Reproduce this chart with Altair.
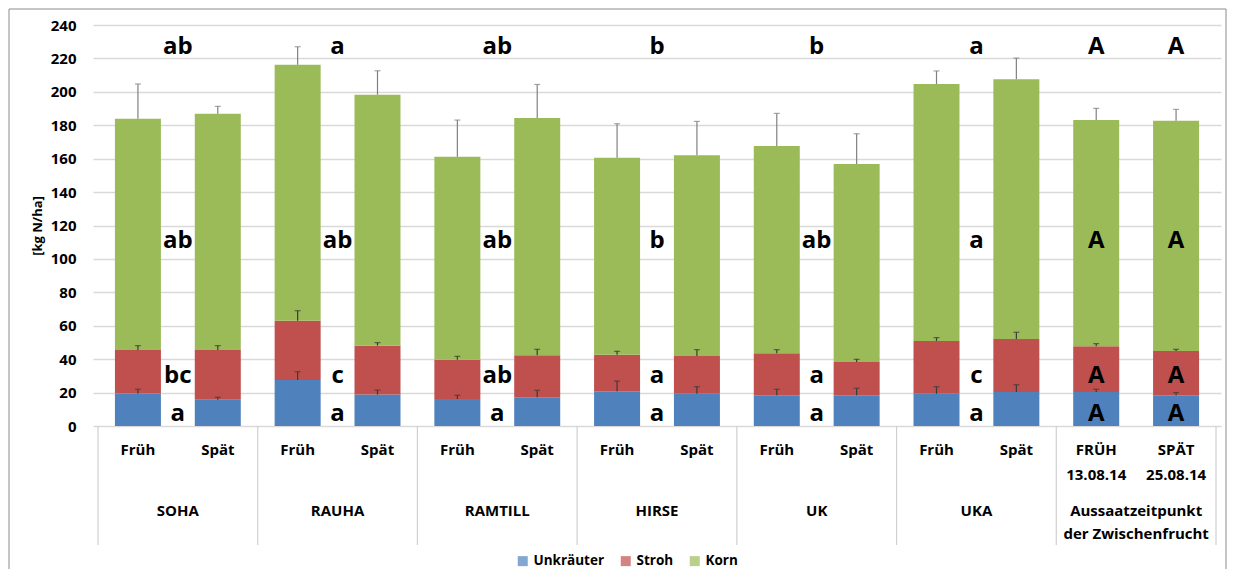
import altair as alt
import pandas as pd

# ---------------- data ----------------
series = ["Unkräuter", "Stroh", "Korn"]
colors = ["#4F81BD", "#C0504D", "#9BBB59"]

sub_line1 = ["Früh", "Spät"] * 6 + ["FRÜH", "SPÄT"]
sub_line2 = [""] * 12 + ["13.08.14", "25.08.14"]
group_line1 = ["SOHA", "RAUHA", "RAMTILL", "HIRSE", "UK", "UKA", "Aussaatzeitpunkt"]
group_line2 = [""] * 6 + ["der Zwischenfrucht"]

unkraeuter = [19.5, 15.7, 27.5, 18.8, 16.1, 17.2, 20.8, 19.3, 18.4, 18.4, 19.3, 20.3, 20.3, 18.4]
stroh = [26.0, 29.8, 35.5, 29.3, 23.6, 25.1, 21.9, 22.6, 25.1, 19.9, 31.6, 31.8, 27.4, 26.5]
korn = [138.4, 141.4, 153.2, 150.2, 121.5, 142.0, 117.9, 120.1, 124.1, 118.5, 153.8, 155.4, 135.4, 137.8]

sd_unkraeuter = [2.5, 1.5, 5.0, 2.7, 2.3, 4.2, 6.1, 4.2, 3.6, 4.2, 4.2, 4.4, 1.7, 1.6]
sd_stroh = [2.6, 2.6, 6.0, 1.8, 2.0, 3.6, 2.0, 3.8, 2.2, 1.6, 2.0, 4.0, 1.6, 1.0]
sd_korn = [20.8, 4.4, 10.8, 14.3, 21.9, 20.1, 20.3, 20.3, 19.5, 18.1, 7.8, 12.7, 7.0, 6.8]

letters_total = ["ab", "a", "ab", "b", "b", "a", "A", "A"]
letters_korn = ["ab", "ab", "ab", "b", "ab", "a", "A", "A"]
letters_stroh = ["bc", "c", "ab", "a", "a", "c", "A", "A"]
letters_unk = ["a", "a", "a", "a", "a", "a", "A", "A"]

y_ticks = list(range(0, 241, 20))

# ---------------- build tables ----------------
FONT = "Open Sans"
n = len(unkraeuter)
comps = [unkraeuter, stroh, korn]
sds = [sd_unkraeuter, sd_stroh, sd_korn]
err_colors = ["#3a3a3a", "#3a3a3a", "#808080"]

bar_rows, err_rows = [], []
for i in range(n):
    base = 0.0
    for k, s in enumerate(series):
        top = base + comps[k][i]
        bar_rows.append({"pos": i + 0.5, "series": s, "start": base, "end": top})
        err_rows.append({"pos": i + 0.5, "top": top, "etop": top + sds[k][i], "ecol": err_colors[k]})
        base = top
bar_df = pd.DataFrame(bar_rows)
err_df = pd.DataFrame(err_rows)

letter_pos = [2 * g + 1 for g in range(6)] + [12.5, 13.5]
row_y = {"total": 222.5, "korn": 106.5, "stroh": 26.0, "unk": 3.0}
let_rows = []
for key, labs in [("total", letters_total), ("korn", letters_korn),
                  ("stroh", letters_stroh), ("unk", letters_unk)]:
    for p, l in zip(letter_pos, labs):
        let_rows.append({"pos": p, "ly": row_y[key], "label": l})
let_df = pd.DataFrame(let_rows)

sub_df = pd.DataFrame({"pos": [i + 0.5 for i in range(n)], "l1": sub_line1, "l2": sub_line2})
grp_df = pd.DataFrame({"pos": [2 * g + 1 for g in range(7)], "l1": group_line1, "l2": group_line2})
sep_df = pd.DataFrame({"x": list(range(0, 15, 2))})

xs = alt.Scale(domain=[0, 14], nice=False, zero=False)
ys = alt.Scale(domain=[0, 240], nice=False)
X = alt.X("pos:Q", scale=xs, axis=None)
y_axis = alt.Axis(values=y_ticks, grid=True, gridColor="#d9d9d9", gridWidth=1.3,
                  domain=False, ticks=False, labelFont=FONT, labelFontWeight="bold",
                  labelFontSize=15, labelColor="black", labelPadding=17, labelOverlap=False,
                  titleFont=FONT, titleFontWeight="bold", titleFontSize=13,
                  titleColor="black", titlePadding=6)


def Y(field):
    return alt.Y(field, scale=ys, title="[kg N/ha]", axis=y_axis)


bars = alt.Chart(bar_df).mark_bar(size=46).encode(
    x=X,
    y=Y("start:Q"),
    y2="end:Q",
    color=alt.Color("series:N", scale=alt.Scale(domain=series, range=colors),
                    legend=alt.Legend(orient="none", legendX=423, legendY=529,
                                      direction="horizontal", title=None,
                                      symbolType="square", symbolSize=100,
                                      symbolStrokeWidth=0, labelFont=FONT,
                                      labelFontWeight="bold", labelFontSize=13.5,
                                      labelColor="black", columnPadding=14,
                                      labelOffset=4)),
    order=alt.Order("start:Q"),
)

err_rule = alt.Chart(err_df).mark_rule(strokeWidth=1.2).encode(
    x=X, y=Y("top:Q"), y2="etop:Q",
    color=alt.Color("ecol:N", scale=None))
err_cap = alt.Chart(err_df).mark_tick(orient="horizontal", size=6, thickness=1.2).encode(
    x=X, y=Y("etop:Q"), color=alt.Color("ecol:N", scale=None))

letters = alt.Chart(let_df).mark_text(font=FONT, fontWeight="bold", fontSize=24,
                                      baseline="alphabetic", color="black").encode(
    x=X, y=Y("ly:Q"), text="label:N")

seps = alt.Chart(sep_df).mark_rule(color="#d0d0d0", strokeWidth=1.2).encode(
    x=alt.X("x:Q", scale=xs, axis=None), y=alt.value(401), y2=alt.value(520))


def label_layer(df, field, ypix):
    return alt.Chart(df).mark_text(font=FONT, fontWeight="bold", fontSize=15,
                                   baseline="middle", color="black").encode(
        x=X, y=alt.value(ypix), text=f"{field}:N")


sub1 = label_layer(sub_df, "l1", 425)
sub2 = label_layer(sub_df, "l2", 450)
grp1 = label_layer(grp_df, "l1", 486)
grp2 = label_layer(grp_df, "l2", 509)

frame = alt.Chart(pd.DataFrame({"k": [0]})).mark_rect(
    fillOpacity=0, stroke="#8c8c8c", strokeWidth=1).encode(
    x=alt.value(-84), x2=alt.value(1133), y=alt.value(-16), y2=alt.value(590))

chart = alt.layer(bars, err_rule, err_cap, letters, seps, sub1, sub2, grp1, grp2, frame).properties(
    width=1128, height=401,
    padding={"left": 85, "top": 17, "right": 6, "bottom": 143},
    autosize=alt.AutoSizeParams(type="none"),
).configure_view(strokeWidth=0)

chart.save("out.html", embed_options={"renderer": "svg", "actions": False})
